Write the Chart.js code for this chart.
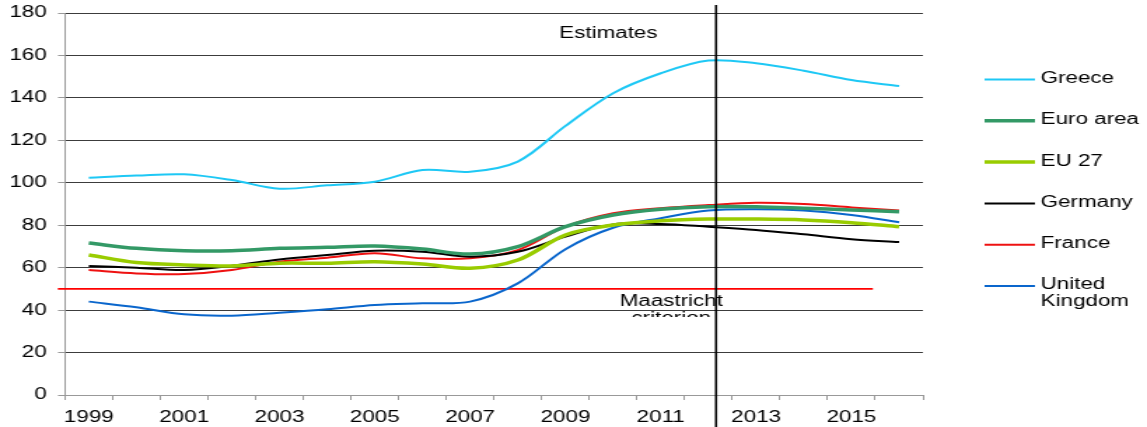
<!DOCTYPE html>
<html>
<head>
<meta charset="utf-8">
<script src="https://cdn.jsdelivr.net/npm/chart.js@4/dist/chart.umd.min.js"></script>
<style>
  html, body { margin: 0; padding: 0; background: #fff; overflow: hidden; }
  /* the source picture is stretched sideways, so draw narrow and stretch */
  #debt-chart { display: block; transform: scaleX(1.4005); transform-origin: 0 0; }
</style>
</head>
<body>
<canvas id="debt-chart" width="819" height="427"></canvas>
<script>
/* data */

const years = ['1999','2000','2001','2002','2003','2004','2005','2006','2007','2008',
               '2009','2010','2011','2012','2013','2014','2015','2016'];

const greece   = [102.4, 103.4, 104.0, 101.3, 97.2, 98.8, 100.5, 106.0, 105.2, 110.0, 126.8, 142.2, 151.6, 157.6, 156.3, 152.8, 148.4, 145.6];
const euroArea = [71.6, 69.1, 68.0, 68.0, 69.1, 69.6, 70.2, 68.8, 66.4, 69.9, 79.3, 84.8, 87.5, 88.7, 88.7, 88.0, 87.2, 86.4];
const eu27     = [66.0, 62.4, 61.3, 60.8, 62.1, 62.1, 62.8, 61.7, 59.7, 63.6, 75.4, 80.1, 82.1, 82.9, 82.9, 82.5, 81.2, 79.3];
const germany  = [60.8, 60.0, 58.9, 60.9, 63.9, 66.0, 68.0, 67.5, 65.2, 67.5, 74.6, 80.4, 80.6, 79.3, 77.8, 75.7, 73.4, 72.1];
const france   = [58.9, 57.3, 57.0, 58.9, 62.8, 64.7, 66.8, 64.4, 64.4, 68.3, 79.3, 85.6, 88.0, 89.5, 90.6, 90.0, 88.4, 86.9];
const uk       = [44.0, 41.3, 38.0, 37.4, 38.8, 40.4, 42.4, 43.2, 44.0, 52.6, 68.7, 78.8, 83.3, 86.9, 87.5, 86.9, 84.8, 81.4];

// Maastricht criterion: 60% line drawn at 50 in the source, start and end year
const maastrichtLevel = 50;
const maastrichtYears = [1998.35, 2015.45];

// where the estimates begin, and where the two notes sit (year, value)
const estimatesStart = 2012.16;
const estimatesNote = { year: 2009.9, value: 170.5, text: 'Estimates' };
const maastrichtNote = { year: 2011.22, value: 43.8, clipValue: 36.8, text: ['Maastricht', 'criterion'] };

const firstYear = parseInt(years[0]);

Chart.defaults.font.family = '"Liberation Sans", Arial, sans-serif';
Chart.defaults.font.size = 16;
Chart.defaults.color = '#000';

//notes, vertical estimates line and the legend on the right
const notesPlugin = {
    id: 'notes',
    afterDatasetsDraw(chart) {
        const ctx = chart.ctx;
        const xs = chart.scales.x2;
        const ys = chart.scales.y;
        const area = chart.chartArea;

        ctx.save();
        ctx.fillStyle = '#000';
        ctx.font = '16px "Liberation Sans", Arial, sans-serif';
        ctx.textBaseline = 'middle';

        // Maastricht note, cut off at the bottom like the source
        ctx.save();
        ctx.beginPath();
        ctx.rect(0, 0, chart.width, ys.getPixelForValue(maastrichtNote.clipValue));
        ctx.clip();
        ctx.textAlign = 'center';
        const mx = xs.getPixelForValue(maastrichtNote.year - firstYear);
        const my = ys.getPixelForValue(maastrichtNote.value);
        maastrichtNote.text.forEach((t, i) => ctx.fillText(t, mx, my + i * 17));
        ctx.restore();

        ctx.textAlign = 'center';
        ctx.fillText(estimatesNote.text, xs.getPixelForValue(estimatesNote.year - firstYear), ys.getPixelForValue(estimatesNote.value));

        // vertical line
        const ex = xs.getPixelForValue(estimatesStart - firstYear);
        ctx.strokeStyle = '#000';
        ctx.lineWidth = 1.6;
        ctx.beginPath();
        ctx.moveTo(ex, 5);
        ctx.lineTo(ex, chart.height);
        ctx.stroke();

        // legend
        const series = chart.data.datasets.filter(d => d.xAxisID !== 'x2');
        ctx.textAlign = 'left';
        series.forEach((d, i) => {
            const y = 79.5 + i * 41.3;
            ctx.strokeStyle = d.borderColor;
            ctx.lineWidth = d.borderWidth;
            ctx.beginPath();
            ctx.moveTo(area.right + 44, y);
            ctx.lineTo(area.right + 80, y);
            ctx.stroke();
            const lines = Array.isArray(d.legendText) ? d.legendText : [d.label];
            lines.forEach((t, j) => ctx.fillText(t, area.right + 84, y - 1 + j * 17));
        });
        ctx.restore();
    }
};

function makeSeries(label, values, color, width) {
    return {
        label: label,
        data: values,
        borderColor: color,
        backgroundColor: color,
        borderWidth: width,
        fill: false,
        pointRadius: 0,
        tension: 0.33
    };
}

function drawDebtChart() {
    const canvas = document.getElementById('debt-chart');

    const ukSeries = makeSeries('United Kingdom', uk, '#0a66cc', 2);
    ukSeries.legendText = ['United', 'Kingdom'];

    const data = {
        labels: years,
        datasets: [
            makeSeries('Greece', greece, '#1ec8f5', 2),
            makeSeries('Euro area', euroArea, '#339966', 3.5),
            makeSeries('EU 27', eu27, '#99cc00', 3.5),
            makeSeries('Germany', germany, '#000000', 2),
            makeSeries('France', france, '#ee1111', 2),
            ukSeries,
            {
                label: 'Maastricht criterion',
                data: maastrichtYears.map(v => ({ x: v - firstYear, y: maastrichtLevel })),
                xAxisID: 'x2',
                borderColor: '#ff0000',
                borderWidth: 1.8,
                pointRadius: 0,
                tension: 0,
                clip: false
            }
        ]
    };

    const config = {
        type: 'line',
        data: data,
        options: {
            responsive: false,
            animation: false,
            layout: { padding: { top: 13, right: 160, left: 0, bottom: 0 } },
            plugins: {
                legend: { display: false },
                tooltip: { enabled: false }
            },
            scales: {
                x: {
                    type: 'category',
                    offset: true,
                    grid: { offset: true, drawOnChartArea: false, tickLength: 5, color: '#999' },
                    border: { color: '#999', width: 1 },
                    ticks: {
                        autoSkip: false,
                        maxRotation: 0,
                        padding: 8,
                        callback: (v, i) => i % 2 === 0 ? years[i] : ''
                    },
                    afterFit: s => { s.height = 32; }
                },
                x2: { type: 'linear', display: false, min: -0.5, max: years.length - 0.5 },
                y: {
                    min: 0,
                    max: 180,
                    ticks: { stepSize: 20, padding: 8 },
                    grid: {
                        color: c => c.tick && c.tick.value === 0 ? '#999' : '#3c3c3c',
                        tickColor: '#999',
                        tickLength: 5
                    },
                    border: { color: '#999', width: 1 },
                    afterFit: s => {
                        s.width = 46.4;
                        // let the layout padding alone set the top of the plot
                        s.paddingTop = 0;
                        s.paddingBottom = 0;
                    }
                }
            }
        },
        plugins: [notesPlugin]
    };

    const chart = new Chart(canvas.getContext('2d'), config);
}

drawDebtChart();
</script>
</body>
</html>
